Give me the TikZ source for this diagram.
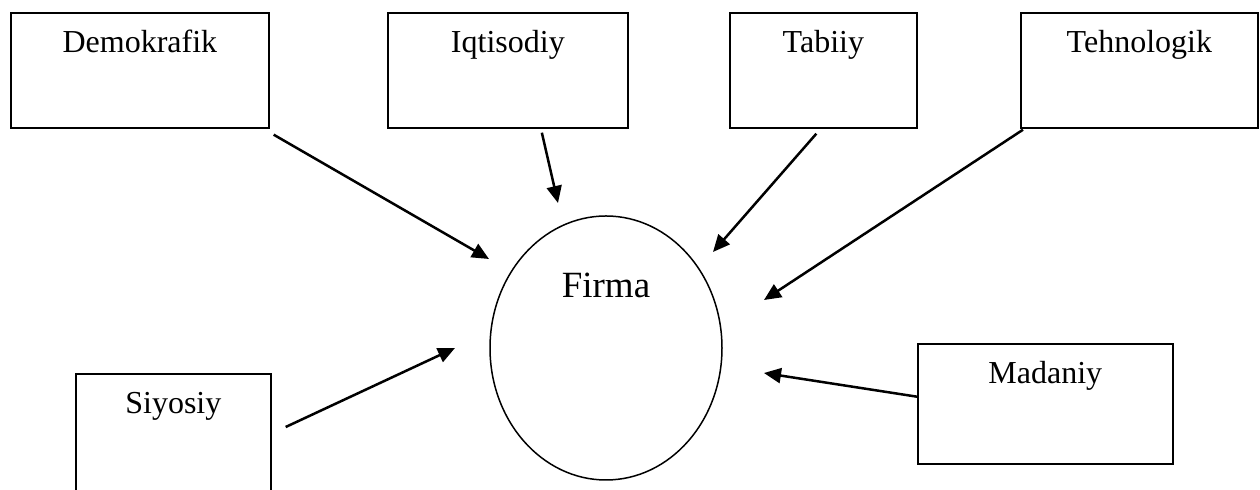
\documentclass[tikz,border=0pt]{standalone}
\usepackage{fontspec}
\setmainfont{Liberation Serif}
\usetikzlibrary{shapes.geometric,arrows.meta}

\begin{document}
\begin{tikzpicture}[x=0.5pt,y=-0.5pt,
    factor/.style={draw,line width=0.85pt,rectangle,inner sep=0pt,anchor=north west,
      font=\fontsize{16}{18}\selectfont,text height=20pt,text depth=37.5pt},
    firm/.style={draw,line width=0.75pt,ellipse,inner sep=0pt,minimum width=116pt,
      minimum height=132pt,font=\fontsize{18.5}{21}\selectfont,text height=10pt,text depth=60pt},
    arr/.style={-{Triangle[length=8.5pt,width=7.5pt]},line width=1.25pt}]
        \useasboundingbox (0,0) rectangle (1260,490);
        \clip (0,0) rectangle (1260,490);
        \node[factor,minimum width=129pt] (demo) at (10,12) {Demokrafik};
        \node[factor,minimum width=120pt] (iqti) at (387,12) {Iqtisodiy};
        \node[factor,minimum width=93.5pt] (tabi) at (729,12) {Tabiiy};
        \node[factor,minimum width=118.5pt] (tehno) at (1020,12) {Tehnologik};
        \node[factor,minimum width=97.5pt,text depth=43.5pt] (siyo) at (75,373) {Siyosiy};
        \node[factor,minimum width=127.5pt,text depth=40pt] (mada) at (917,343) {Madaniy};
        \node[firm] (firma) at (606,348) {Firma};
        \path[arr]
        ([shift={(4,6)}]demo.south east) edge ([shift={(-117,-89)}]firma.center)
        ([shift={(34,4)}]iqti.south) edge ([shift={(-48,-145)}]firma.center)
        ([shift={(-7,5)}]tabi.south) edge ([shift={(107,-96)}]firma.center)
        ([shift={(3,1)}]tehno.south west) edge ([shift={(158,-48)}]firma.center)
        ([shift={(1,-7)}]mada.west) edge ([shift={(158,25)}]firma.center)
        ([shift={(14,54)}]siyo.north east) edge ([shift={(-151,0)}]firma.center);
    \end{tikzpicture}
\end{document}
